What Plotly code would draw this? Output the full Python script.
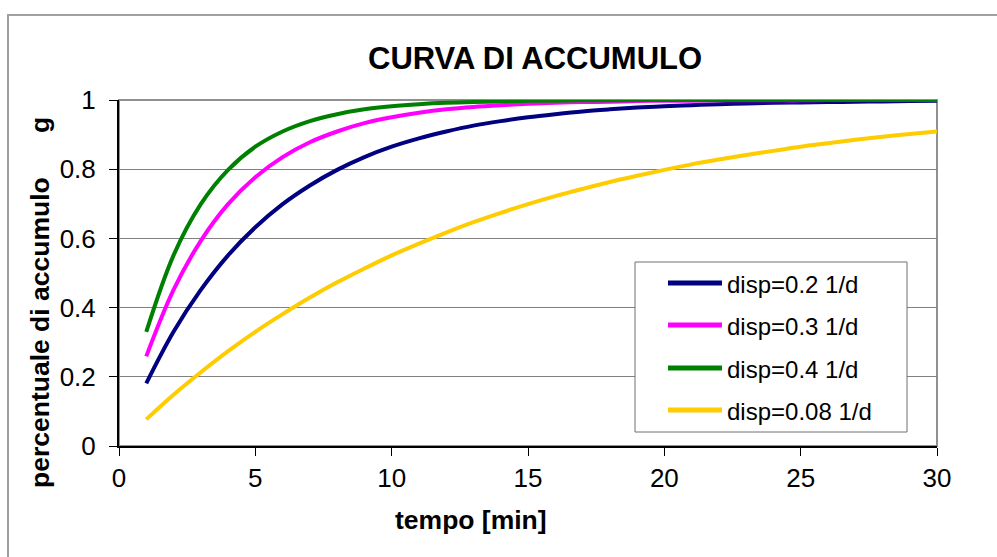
import plotly.graph_objects as go

# Time axis (minutes)
tempo = list(range(1, 31))

# Accumulation fraction for each dispersion coefficient
acc_02 = [0.181, 0.330, 0.451, 0.551, 0.632, 0.699, 0.753, 0.798, 0.835, 0.865,
          0.889, 0.909, 0.926, 0.939, 0.950, 0.959, 0.967, 0.973, 0.978, 0.982,
          0.985, 0.988, 0.990, 0.992, 0.993, 0.994, 0.995, 0.996, 0.997, 0.998]
acc_03 = [0.259, 0.451, 0.593, 0.699, 0.777, 0.835, 0.878, 0.909, 0.933, 0.950,
          0.963, 0.973, 0.980, 0.985, 0.989, 0.992, 0.994, 0.995, 0.997, 0.998,
          0.998, 0.999, 0.999, 0.999, 0.999, 1.000, 1.000, 1.000, 1.000, 1.000]
acc_04 = [0.330, 0.551, 0.699, 0.798, 0.865, 0.909, 0.939, 0.959, 0.973, 0.982,
          0.988, 0.992, 0.994, 0.996, 0.998, 0.998, 0.999, 0.999, 1.000, 1.000,
          1.000, 1.000, 1.000, 1.000, 1.000, 1.000, 1.000, 1.000, 1.000, 1.000]
acc_008 = [0.077, 0.148, 0.213, 0.274, 0.330, 0.381, 0.429, 0.473, 0.513, 0.551,
           0.585, 0.617, 0.647, 0.674, 0.699, 0.722, 0.743, 0.763, 0.781, 0.798,
           0.814, 0.828, 0.841, 0.853, 0.865, 0.875, 0.885, 0.894, 0.902, 0.909]

series_names = ["disp=0.2 1/d", "disp=0.3 1/d", "disp=0.4 1/d", "disp=0.08 1/d"]
series_data = [acc_02, acc_03, acc_04, acc_008]
series_colors = ["#000080", "#FF00FF", "#008000", "#FFCC00"]

x_ticks = [0, 5, 10, 15, 20, 25, 30]
y_ticks = [0, 0.2, 0.4, 0.6, 0.8, 1]
y_tick_text = ["0", "0.2", "0.4", "0.6", "0.8", "1"]

W, H = 997, 557
L, R, T, B = 119, 937, 100, 446  # plot area in pixels
PW, PH = R - L, B - T


def px(x):
    return (x - L) / PW


def py(y):
    return (B - y) / PH


FONT = "Liberation Sans, Arial, sans-serif"

fig = go.Figure()

shapes = [
    # outer chart border
    dict(type="rect", xref="paper", yref="paper",
         x0=px(8), x1=px(1010), y0=py(15), y1=py(570),
         line=dict(color="#A0A0A0", width=2), layer="below"),
    # plot area border
    dict(type="rect", xref="paper", yref="paper",
         x0=0, x1=1, y0=0, y1=1,
         line=dict(color="#909090", width=2), layer="below"),
]

for name, ys, col in zip(series_names, series_data, series_colors):
    fig.add_trace(go.Scatter(
        x=tempo, y=ys, mode="lines", name=name,
        line=dict(color=col, width=4, shape="spline"),
        showlegend=False,
    ))

# Legend box with swatches and labels
leg_x0, leg_x1, leg_y0, leg_y1 = 635, 907, 262, 432
shapes.append(dict(type="rect", xref="paper", yref="paper",
                   x0=px(leg_x0), x1=px(leg_x1), y0=py(leg_y1), y1=py(leg_y0),
                   line=dict(color="#707070", width=1), fillcolor="white",
                   layer="above"))
annotations = []
leg_rows = [283, 325, 368, 410]
for name, col, yr in zip(series_names, series_colors, leg_rows):
    shapes.append(dict(type="line", xref="paper", yref="paper",
                       x0=px(668), x1=px(722), y0=py(yr), y1=py(yr),
                       line=dict(color=col, width=5), layer="above"))
    annotations.append(dict(xref="paper", yref="paper", x=px(725), y=py(yr + 1),
                            text=name, showarrow=False, xanchor="left",
                            yanchor="middle",
                            font=dict(family=FONT, size=24, color="black")))

# Title and axis titles
annotations.append(dict(xref="paper", yref="paper", x=px(535), y=py(58),
                        text="<b>CURVA DI ACCUMULO</b>", showarrow=False,
                        xanchor="center", yanchor="middle",
                        font=dict(family=FONT, size=31, color="black")))
annotations.append(dict(xref="paper", yref="paper", x=px(471), y=py(520),
                        text="<b>tempo [min]</b>", showarrow=False,
                        xanchor="center", yanchor="middle",
                        font=dict(family=FONT, size=26.5, color="black")))
annotations.append(dict(xref="paper", yref="paper", x=px(40), y=py(303),
                        text="<b>percentuale di accumulo" + "&nbsp;" * 6 + "g</b>",
                        showarrow=False, textangle=-90,
                        xanchor="center", yanchor="middle",
                        font=dict(family=FONT, size=26.5, color="black")))

fig.update_layout(
    width=W, height=H,
    margin=dict(l=L, r=W - R, t=T, b=H - B, pad=0),
    paper_bgcolor="white", plot_bgcolor="white",
    shapes=shapes, annotations=annotations,
    showlegend=False,
    xaxis=dict(range=[0, 30], tickvals=x_ticks, ticktext=[str(v) for v in x_ticks],
               showgrid=False, zeroline=False,
               showline=True, linecolor="black", linewidth=2,
               ticks="outside", ticklen=8, tickcolor="black", tickwidth=1,
               tickfont=dict(family=FONT, size=26, color="black"),
               fixedrange=True),
    yaxis=dict(range=[0, 1], tickvals=y_ticks, ticktext=y_tick_text,
               showgrid=True, gridcolor="#808080", gridwidth=1,
               zeroline=False,
               showline=True, linecolor="black", linewidth=2,
               ticks="outside", ticklen=8, tickcolor="black", tickwidth=1,
               ticklabelstandoff=8,
               tickfont=dict(family=FONT, size=26, color="black"),
               fixedrange=True),
)

fig.write_html("out.html")
